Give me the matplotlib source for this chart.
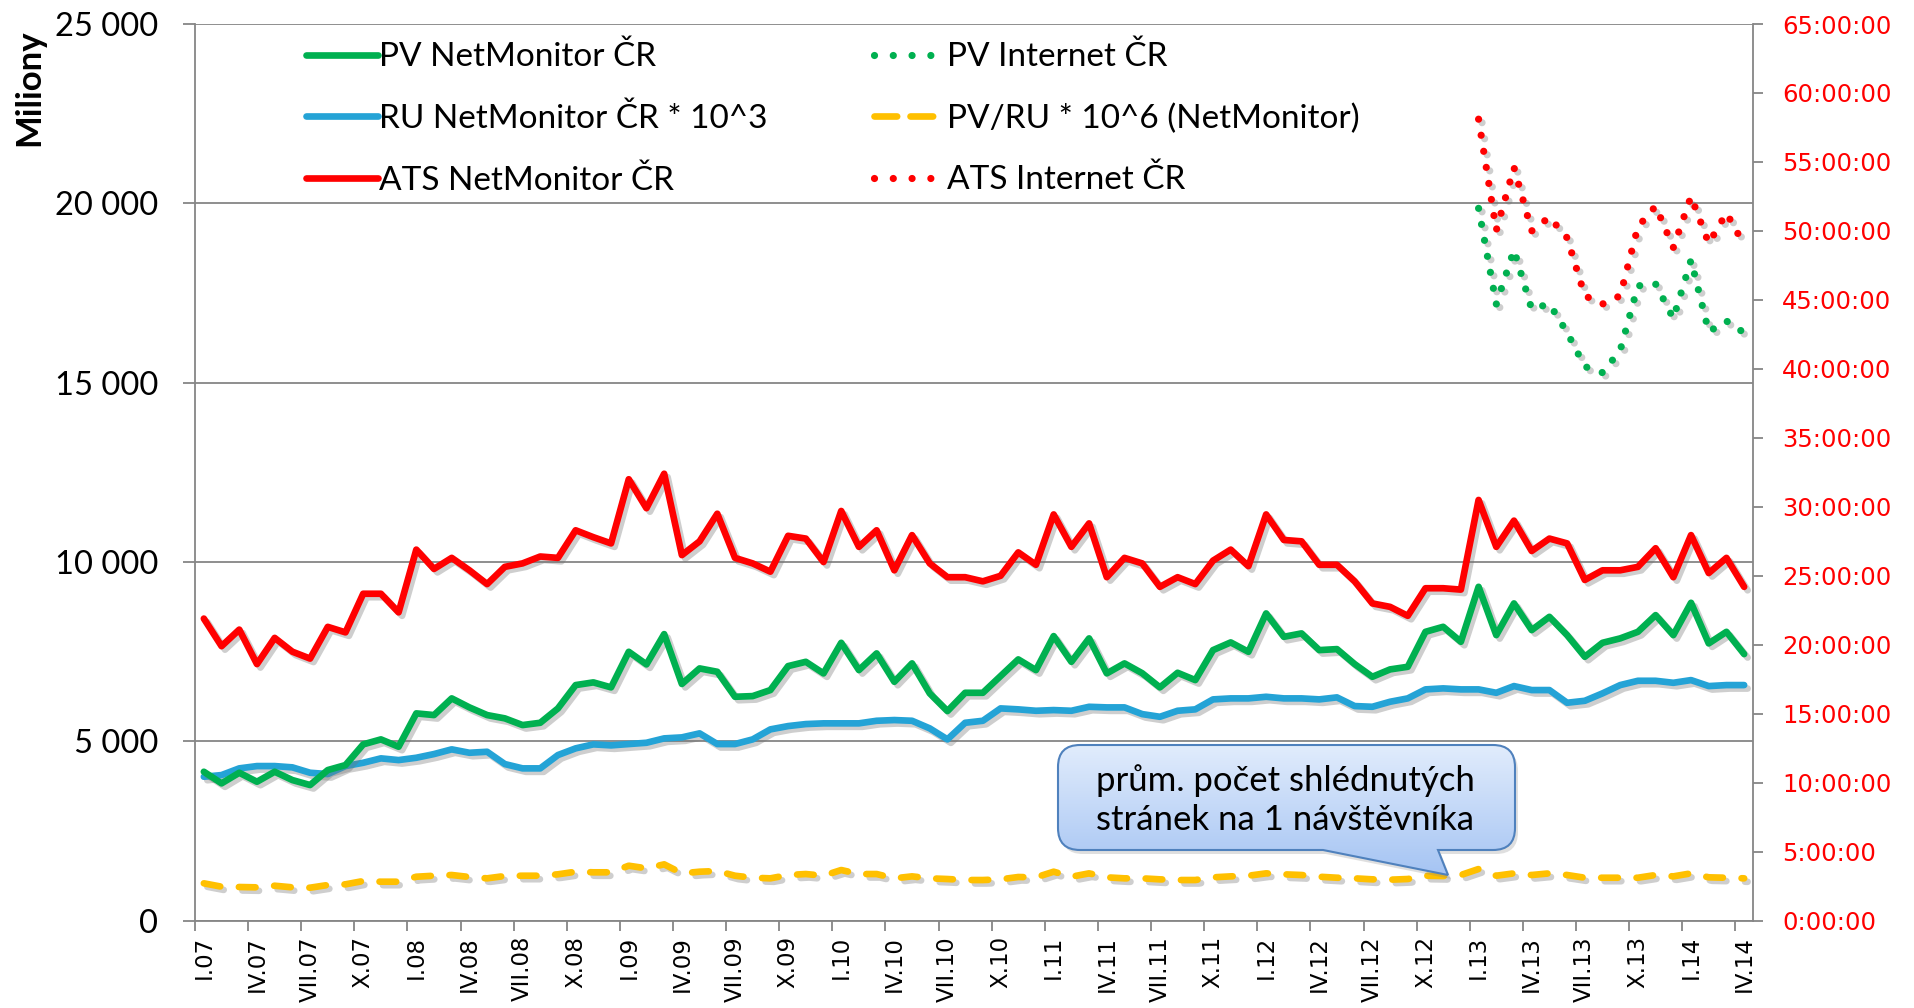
import numpy as np
import matplotlib
matplotlib.use("Agg")
import matplotlib.pyplot as plt
from matplotlib.lines import Line2D
from matplotlib.path import Path
from matplotlib.patches import PathPatch
from matplotlib.colors import LinearSegmentedColormap
import matplotlib.patheffects as pe
from matplotlib.ticker import FuncFormatter

# ---------------- data ----------------
x_labels = ["I.07", "IV.07", "VII.07", "X.07", "I.08", "IV.08", "VII.08", "X.08",
            "I.09", "IV.09", "VII.09", "X.09", "I.10", "IV.10", "VII.10", "X.10",
            "I.11", "IV.11", "VII.11", "X.11", "I.12", "IV.12", "VII.12", "X.12",
            "I.13", "IV.13", "VII.13", "X.13", "I.14", "IV.14"]

# PV NetMonitor CR (millions), monthly I.07 .. IV.14
pv_netmonitor = [4153, 3829, 4125, 3874, 4153, 3921, 3782, 4200, 4339, 4916, 5055, 4850,
                 5780, 5733, 6198, 5947, 5733, 5641, 5454, 5518, 5919, 6569, 6644, 6505,
                 7497, 7146, 7990, 6600, 7034, 6940, 6243, 6262, 6430, 7098, 7218, 6895,
                 7748, 6987, 7452, 6661, 7174, 6338, 5844, 6354, 6354, 6820, 7285, 6987,
                 7935, 7218, 7871, 6895, 7174, 6900, 6505, 6912, 6708, 7544, 7759, 7497,
                 8567, 7915, 8010, 7544, 7572, 7154, 6800, 7006, 7079, 8054, 8194, 7776,
                 9309, 7962, 8846, 8102, 8472, 7962, 7358, 7748, 7871, 8054, 8520, 7962,
                 8863, 7731, 8054, 7433]

# RU NetMonitor CR * 10^3
ru_netmonitor = [4013, 4060, 4247, 4311, 4311, 4275, 4125, 4088, 4311, 4403, 4526, 4478,
                 4543, 4646, 4777, 4682, 4710, 4367, 4247, 4247, 4618, 4805, 4916, 4888,
                 4925, 4961, 5083, 5111, 5223, 4925, 4925, 5055, 5334, 5426, 5482, 5502,
                 5502, 5502, 5574, 5594, 5574, 5362, 5055, 5518, 5574, 5919, 5892, 5853,
                 5872, 5853, 5964, 5947, 5947, 5760, 5685, 5853, 5892, 6170, 6198, 6198,
                 6243, 6198, 6198, 6170, 6226, 5984, 5964, 6104, 6198, 6449, 6477, 6449,
                 6449, 6354, 6541, 6430, 6430, 6076, 6131, 6338, 6569, 6689, 6689, 6633,
                 6708, 6541, 6569, 6569]

# PV/RU * 10^6 (NetMonitor)
pv_per_ru = [1042, 948, 939, 930, 975, 930, 920, 995, 1014, 1106, 1087, 1087,
             1226, 1254, 1274, 1218, 1181, 1246, 1254, 1254, 1293, 1366, 1349, 1349,
             1533, 1460, 1571, 1320, 1366, 1385, 1254, 1198, 1181, 1274, 1301, 1254,
             1413, 1301, 1301, 1181, 1236, 1181, 1162, 1134, 1134, 1153, 1218, 1209,
             1366, 1226, 1320, 1209, 1181, 1181, 1153, 1134, 1134, 1209, 1236, 1254,
             1320, 1293, 1274, 1226, 1198, 1181, 1153, 1143, 1162, 1254, 1246, 1274,
             1441, 1254, 1320, 1274, 1320, 1274, 1198, 1198, 1198, 1198, 1274, 1236,
             1320, 1209, 1198, 1181]

# ATS NetMonitor CR (hours, right axis)
ats_netmonitor = [21.9, 19.9, 21.1, 18.6, 20.5, 19.5, 19.0, 21.3, 20.9, 23.7, 23.7, 22.35,
                  26.9, 25.5, 26.3, 25.4, 24.4, 25.65, 25.9, 26.4, 26.3, 28.3, 27.8, 27.35,
                  32.0, 29.9, 32.4, 26.5, 27.5, 29.5, 26.3, 25.9, 25.3, 27.9, 27.7, 26.0,
                  29.7, 27.1, 28.3, 25.4, 27.95, 25.9, 24.9, 24.9, 24.6, 25.0, 26.7, 25.8,
                  29.45, 27.1, 28.8, 24.9, 26.3, 25.9, 24.2, 24.9, 24.4, 26.1, 26.9, 25.7,
                  29.45, 27.6, 27.5, 25.8, 25.8, 24.6, 23.0, 22.75, 22.1, 24.1, 24.1, 24.0,
                  30.5, 27.1, 29.0, 26.8, 27.7, 27.35, 24.7, 25.4, 25.4, 25.65, 27.0, 24.9,
                  27.95, 25.2, 26.3, 24.2]

# Internet CR series, monthly I.13 .. IV.14
internet_start = 72
pv_internet = [19860, 17190, 18700, 17050, 17200, 16400, 15450, 15280,
               15900, 17700, 17750, 16790, 18420, 16420, 16720, 16390]
ats_internet = [58.1, 50.05, 54.6, 50.0, 51.0, 49.5, 45.3, 44.7,
                45.3, 50.3, 51.8, 48.8, 52.5, 49.1, 51.3, 49.0]

# ---------------- style ----------------
GREEN = "#00b050"
BLUE = "#24a3d6"
RED = "#ff0000"
YELLOW = "#ffc000"
GRAY = "#868686"
TEXT_FONT = ["Lato", "DejaVu Sans"]
AXIS_FONT = ["DejaVu Sans"]
W, H = 1915, 1008

fig = plt.figure(figsize=(W / 100, H / 100), dpi=100)
ax = fig.add_axes([195 / W, 1 - 920.7 / H, (1753 - 195) / W, (920.7 - 24) / H])
ax2 = ax.twinx()

shadow = [pe.SimpleLineShadow(offset=(2.5, -2.5), shadow_color="0.45", alpha=0.35),
          pe.Normal()]

months = np.arange(len(pv_netmonitor))
months_int = np.arange(internet_start, internet_start + len(pv_internet))

LW = 4.8
LW_DOT = 5.2
common = dict(solid_capstyle="round", solid_joinstyle="round",
              dash_capstyle="round", dash_joinstyle="round", path_effects=shadow)
DOTS = (0, (0.001, 2.25))

ax.plot(months, pv_per_ru, color=YELLOW, lw=LW, linestyle=(0, (2.5, 2.8)), **common)
ax.plot(months, ru_netmonitor, color=BLUE, lw=LW, **common)
ax.plot(months, pv_netmonitor, color=GREEN, lw=LW, **common)
ax.plot(months_int, pv_internet, color=GREEN, lw=LW_DOT, linestyle=DOTS, **common)
ax2.plot(months, ats_netmonitor, color=RED, lw=LW, **common)
ax2.plot(months_int, ats_internet, color=RED, lw=LW_DOT, linestyle=DOTS, **common)

# axes limits and ticks
ax.set_xlim(-0.5, len(months) - 0.5)
ax.set_ylim(0, 25000)
ax2.set_ylim(0, 65)

ax.set_yticks(np.arange(0, 25001, 5000))
ax.yaxis.set_major_formatter(FuncFormatter(lambda v, p: f"{int(v):,}".replace(",", " ")))
ax.tick_params(axis="y", which="major", length=8.4, width=1.3, color=GRAY, pad=18,
               labelsize=23.5)
for t in ax.get_yticklabels():
    t.set_fontfamily(TEXT_FONT)

ax.set_xticks(months[::3])
ax.set_xticklabels(x_labels, rotation=90, fontsize=16.5, fontfamily=AXIS_FONT)
ax.set_xticks(np.arange(-0.5, len(months) - 1, 3), minor=True)
ax.tick_params(axis="x", which="major", length=0, pad=11)
ax.tick_params(axis="x", which="minor", length=7, width=1.3, color=GRAY)

ax2.set_yticks(np.arange(0, 66, 5))
ax2.yaxis.set_major_formatter(FuncFormatter(lambda v, p: f"{int(v)}:00:00"))
ax2.tick_params(axis="y", which="major", length=7, width=1.3, color=GRAY, pad=14,
                labelsize=17.5, labelcolor=RED)
for t in ax2.get_yticklabels():
    t.set_fontfamily(AXIS_FONT)

ax.yaxis.grid(True, color=GRAY, lw=1.3)
ax.set_axisbelow(True)
for a in (ax, ax2):
    a.spines["top"].set_visible(False)
    for s in ("left", "right", "bottom"):
        a.spines[s].set_color(GRAY)
        a.spines[s].set_linewidth(1.3)
ax.spines["right"].set_visible(False)
ax2.spines["left"].set_visible(False)
ax2.spines["bottom"].set_visible(False)

fig.text(29 / W, 1 - 88 / H, "Miliony", rotation=90, ha="center", va="center",
         fontsize=25, fontweight="bold", fontfamily=TEXT_FONT)

# ---------------- legend ----------------
def handle(color, ls="-", lw=LW):
    return Line2D([], [], color=color, lw=lw, linestyle=ls, solid_capstyle="round",
                  dash_capstyle="round")

col1 = [(handle(GREEN), "PV NetMonitor ČR"),
        (handle(BLUE), "RU NetMonitor ČR * 10^3"),
        (handle(RED), "ATS NetMonitor ČR")]
col2 = [(handle(GREEN, (0, (0.001, 2.6)), LW_DOT), "PV Internet ČR"),
        (handle(YELLOW, (0, (3.4, 2.0))), "PV/RU * 10^6 (NetMonitor)"),
        (handle(RED, (0, (0.001, 2.6)), LW_DOT), "ATS Internet ČR")]
leg_kw = dict(loc="upper left", frameon=False, borderpad=0, borderaxespad=0,
              handlelength=2.15, handletextpad=0.05, labelspacing=0.93,
              prop={"family": TEXT_FONT, "size": 24}, bbox_transform=fig.transFigure)
leg1 = fig.legend([h for h, _ in col1], [l for _, l in col1],
                  bbox_to_anchor=(306 / W, 1 - 42 / H), **leg_kw)
leg2 = fig.legend([h for h, _ in col2], [l for _, l in col2],
                  bbox_to_anchor=(874 / W, 1 - 42 / H), **leg_kw)

# ---------------- callout ----------------
ov = fig.add_axes([0, 0, 1, 1], zorder=10)
ov.axis("off")

L, R, T, B, r = 1058, 1515, 745, 850, 22
P1, P2, TIP = 1323, 1438, (1448, 875)


def callout_path(dx=0, dy=0):
    verts = [(L + r, T), (R - r, T), (R, T), (R, T + r), (R, B - r), (R, B), (R - r, B),
             (P2, B), TIP, (P1, B), (L + r, B), (L, B), (L, B - r), (L, T + r), (L, T),
             (L + r, T), (L + r, T)]
    codes = [Path.MOVETO, Path.LINETO, Path.CURVE3, Path.CURVE3, Path.LINETO, Path.CURVE3,
             Path.CURVE3, Path.LINETO, Path.LINETO, Path.LINETO, Path.LINETO, Path.CURVE3,
             Path.CURVE3, Path.LINETO, Path.CURVE3, Path.CURVE3, Path.CLOSEPOLY]
    return Path([(x + dx, y + dy) for x, y in verts], codes)


ov.add_patch(PathPatch(callout_path(3, 4), facecolor="0.5", edgecolor="none", alpha=0.25))
box = PathPatch(callout_path(), facecolor="none", edgecolor="#4f81bd", lw=1.5, zorder=3)
ov.add_patch(box)
grad = np.linspace(0, 1, 256).reshape(-1, 1)
cmap = LinearSegmentedColormap.from_list("cb", ["#e1ecfc", "#a5c4f3"])
im = ov.imshow(grad, cmap=cmap, extent=(L, R, TIP[1], T), aspect="auto", zorder=2)
im.set_clip_path(PathPatch(callout_path(), transform=ov.transData))
ov.set_xlim(0, W)
ov.set_ylim(H, 0)
ov.text((L + R) / 2 - 1, 800, "prům. počet shlédnutých\nstránek na 1 návštěvníka",
        ha="center", va="center", fontsize=25, fontfamily=TEXT_FONT, linespacing=1.3,
        zorder=4)

fig.savefig("out.png", dpi=100)
